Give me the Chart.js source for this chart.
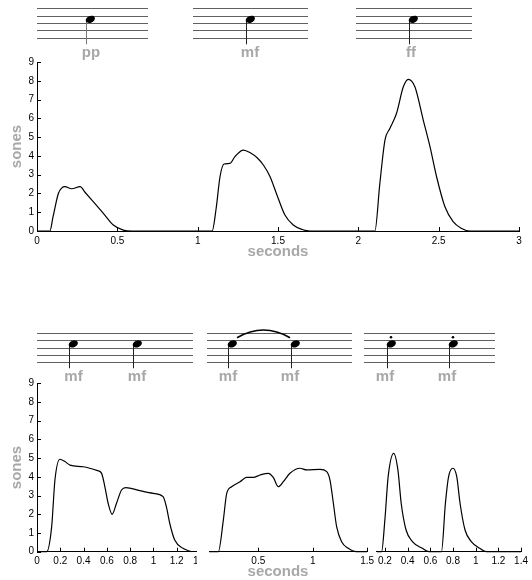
<!DOCTYPE html>
<html>
<head>
<meta charset="utf-8">
<script src="https://cdn.jsdelivr.net/npm/chart.js@4.4.1/dist/chart.umd.min.js"></script>
<style>
body { margin: 0; background: #fff; }
#wrap { position: relative; width: 532px; height: 580px; overflow: hidden; }
canvas { position: absolute; }
#c0 { left: 0; top: 0; }
#c1 { left: 0; top: 320px; }
#c2 { left: 197px; top: 320px; background: #fff; }
#c3 { left: 374px; top: 320px; background: #fff; }
#notes { left: 0; top: 0; pointer-events: none; }
</style>
</head>
<body>
<div id="wrap">
<canvas id="c0" width="532" height="270"></canvas>
<canvas id="c1" width="215" height="260"></canvas>
<canvas id="c2" width="185" height="260"></canvas>
<canvas id="c3" width="158" height="260"></canvas>
<canvas id="notes" width="532" height="580"></canvas>
</div>
<script>
/*----- data (seconds / sones) -----*/
// top: pp, mf, ff single notes
var topTime = [0, 0.08, 0.10, 0.133, 0.155, 0.174, 0.216, 0.268, 0.30, 0.35, 0.413, 0.475, 0.537, 0.59,
    1.09, 1.115, 1.139, 1.164, 1.20, 1.232, 1.284, 1.33, 1.37, 1.41, 1.45, 1.49, 1.543, 1.595, 1.65, 1.70,
    2.103, 2.134, 2.166, 2.197, 2.238, 2.28, 2.311, 2.352, 2.404, 2.446, 2.487, 2.539, 2.59, 2.64, 2.694, 3];
var topSones = [0, 0, 0.76, 2.0, 2.3, 2.36, 2.25, 2.36, 2.05, 1.56, 0.94, 0.32, 0.05, 0,
    0, 1.2, 2.89, 3.57, 3.6, 3.96, 4.31, 4.15, 3.9, 3.5, 2.9, 2.0, 0.85, 0.32, 0.08, 0,
    0, 2.54, 4.85, 5.47, 6.27, 7.68, 8.08, 7.68, 5.91, 4.49, 2.89, 1.29, 0.5, 0.15, 0, 0];
var topTicks = [0, 0.5, 1, 1.5, 2, 2.5, 3];

// bottom left: two separate mf notes
var sepTime = [0, 0.083, 0.126, 0.154, 0.197, 0.24, 0.283, 0.397, 0.52, 0.554, 0.583, 0.611, 0.645,
    0.683, 0.726, 0.763, 0.883, 0.997, 1.083, 1.111, 1.14, 1.183, 1.254, 1.326];
var sepSones = [0, 0, 1.34, 3.83, 4.94, 4.82, 4.63, 4.54, 4.33, 4.2, 3.47, 2.59, 2.0,
    2.59, 3.3, 3.42, 3.26, 3.12, 2.94, 2.41, 1.52, 0.62, 0.18, 0];
var sepTicks = [0, 0.2, 0.4, 0.6, 0.8, 1, 1.2, 1.4];

// bottom middle: slurred
var slurTime = [0.05, 0.133, 0.179, 0.21, 0.255, 0.332, 0.393, 0.454, 0.516, 0.592, 0.638, 0.684, 0.73,
    0.791, 0.883, 0.945, 1.067, 1.129, 1.159, 1.19, 1.22, 1.266, 1.327, 1.40, 1.5];
var slurSones = [0, 0, 1.69, 3.12, 3.47, 3.74, 3.97, 3.97, 4.1, 4.19, 3.97, 3.47, 3.74,
    4.19, 4.46, 4.37, 4.4, 4.28, 3.83, 2.59, 1.34, 0.53, 0.18, 0, 0];
var slurTicks = [0.5, 1, 1.5];

// bottom right: staccato
var stacTime = [0.13, 0.17, 0.199, 0.228, 0.277, 0.314, 0.343, 0.386, 0.444, 0.53, 0.588,
    0.698, 0.733, 0.761, 0.799, 0.833, 0.862, 0.906, 0.963, 1.036, 1.093, 1.4];
var stacSones = [0, 0, 1.69, 4.01, 5.26, 4.37, 2.59, 1.16, 0.53, 0.18, 0,
    0, 2.59, 4.01, 4.46, 4.01, 2.59, 1.16, 0.53, 0.18, 0, 0];
var stacTicks = [0.2, 0.4, 0.6, 0.8, 1, 1.2, 1.4];

var sonesTicks = [0, 1, 2, 3, 4, 5, 6, 7, 8, 9];

/*----- chart setup -----*/
var FONT = "'Liberation Sans', Arial, Helvetica, sans-serif";
var GREY = '#a8a8a8';
Chart.defaults.font.family = FONT;

function fmt(v) {
    return +(+v).toFixed(2) + '';
}

// matlab style ticks, pointing into the plot
var inwardTicks = {
    id: 'inwardTicks',
    afterDraw: function(chart) {
        var ctx = chart.ctx;
        var xs = chart.scales.x,
            ys = chart.scales.y;
        ctx.save();
        ctx.strokeStyle = '#000';
        ctx.lineWidth = 1;
        ctx.beginPath();
        xs.ticks.forEach(function(t) {
            var px = Math.round(xs.getPixelForValue(t.value)) + 0.5;
            ctx.moveTo(px, xs.top);
            ctx.lineTo(px, xs.top - 4);
        });
        if (ys.options.display) {
            ys.ticks.forEach(function(t) {
                var py = Math.round(ys.getPixelForValue(t.value)) + 0.5;
                ctx.moveTo(ys.right, py);
                ctx.lineTo(ys.right + 4, py);
            });
        }
        ctx.stroke();
        ctx.restore();
    }
};

function makeChart(id, time, sones, o) {
    var pts = [];
    for (var i = 0; i < time.length; i++) {
        pts.push({ x: time[i], y: sones[i] });
    }
    var yScale = {
        min: 0,
        max: 9,
        display: o.showY,
        grid: { display: false, drawTicks: false },
        border: { display: true, color: '#000', width: 1 },
        afterBuildTicks: function(s) {
            s.ticks = sonesTicks.map(function(v) { return { value: v }; });
        },
        ticks: { padding: 3, color: '#000', font: { size: 10 }, callback: fmt },
        title: { display: o.showY, text: 'sones', color: GREY, padding: { top: 8, bottom: 0 }, font: { size: 15, weight: 'bold' } }
    };
    if (o.showY) {
        yScale.afterFit = function(s) { s.width = 37; };
    }
    return new Chart(document.getElementById(id), {
        type: 'line',
        data: {
            datasets: [{
                data: pts,
                borderColor: '#000',
                borderWidth: 1.2,
                pointRadius: 0,
                cubicInterpolationMode: 'monotone',
                fill: false,
                clip: 4
            }]
        },
        options: {
            responsive: false,
            animation: false,
            devicePixelRatio: 1,
            layout: { padding: o.pad },
            plugins: { legend: { display: false }, tooltip: { enabled: false } },
            scales: {
                x: {
                    type: 'linear',
                    min: o.xmin,
                    max: o.xmax,
                    grid: { display: false, drawTicks: false },
                    border: { display: true, color: '#000', width: 1 },
                    afterBuildTicks: function(s) {
                        s.ticks = o.ticks.map(function(v) { return { value: v }; });
                    },
                    afterFit: function(s) { s.height = o.xh; },
                    ticks: { padding: 4, maxRotation: 0, color: '#000', font: { size: 10 }, callback: fmt },
                    title: { display: !!o.xtitle, text: 'seconds', color: GREY, padding: { top: 0, bottom: 9 }, font: { size: 15, weight: 'bold' } }
                },
                y: yScale
            }
        },
        plugins: [inwardTicks]
    });
}

makeChart('c0', topTime, topSones, { xmin: 0, xmax: 3, ticks: topTicks, showY: true, xh: 39, xtitle: true,
    pad: { top: 62, right: 13, left: 0, bottom: 0 } });
makeChart('c1', sepTime, sepSones, { xmin: 0, xmax: 1.4, ticks: sepTicks, showY: true, xh: 28.3,
    pad: { top: 63.3, right: 15, left: 0, bottom: 0 } });
makeChart('c2', slurTime, slurSones, { xmin: 0.05, xmax: 1.5, ticks: slurTicks, showY: false, xh: 28.3,
    pad: { top: 63.3, right: 14.9, left: 12.3, bottom: 0 } });
makeChart('c3', stacTime, stacSones, { xmin: 0.127, xmax: 1.4, ticks: stacTicks, showY: false, xh: 28.3,
    pad: { top: 63.3, right: 8.2, left: 2.7, bottom: 0 } });

/*----- music notation above the plots -----*/
var staffs = [
    { x0: 37, x1: 148, y0: 8.3, gap: 7.35, stemEnd: 44.3, labY: 53, notes: [{ x: 86, lab: 'pp', lx: 91, col: '#777' }] },
    { x0: 193, x1: 308, y0: 8.3, gap: 7.35, stemEnd: 44.3, labY: 53, notes: [{ x: 246, lab: 'mf', lx: 250 }] },
    { x0: 356, x1: 472, y0: 8.3, gap: 7.35, stemEnd: 44.3, labY: 53, notes: [{ x: 409, lab: 'ff', lx: 411 }] },
    { x0: 37, x1: 193, y0: 333.3, gap: 7.1, stemEnd: 368.3, labY: 377, notes: [{ x: 69, lab: 'mf', lx: 73.5 }, { x: 133, lab: 'mf', lx: 137 }] },
    { x0: 207, x1: 352, y0: 333.3, gap: 7.1, stemEnd: 368.3, labY: 377, slur: true, notes: [{ x: 228, lab: 'mf', lx: 228 }, { x: 291, lab: 'mf', lx: 290 }] },
    { x0: 364, x1: 495, y0: 333.3, gap: 7.1, stemEnd: 368.3, labY: 377, dots: true, notes: [{ x: 387, lab: 'mf', lx: 385 }, { x: 449, lab: 'mf', lx: 447 }] }
];

function drawStaff(ctx, s) {
    ctx.strokeStyle = '#606060';
    ctx.lineWidth = 1;
    ctx.beginPath();
    for (var i = 0; i < 5; i++) {
        var y = Math.round(s.y0 + i * s.gap) + 0.5;
        ctx.moveTo(s.x0, y);
        ctx.lineTo(s.x1, y);
    }
    ctx.stroke();
    var headY = s.y0 + 1.5 * s.gap;
    s.notes.forEach(function(n) {
        ctx.strokeStyle = n.col || '#222';
        ctx.beginPath();
        ctx.moveTo(n.x + 0.5, headY);
        ctx.lineTo(n.x + 0.5, s.stemEnd);
        ctx.stroke();
        ctx.fillStyle = '#000';
        ctx.beginPath();
        ctx.ellipse(n.x + 4.3, headY, 4.8, 3.4, -0.4, 0, Math.PI * 2);
        ctx.fill();
        if (s.dots) {
            ctx.beginPath();
            ctx.arc(n.x + 4, s.y0 + 4, 1.3, 0, Math.PI * 2);
            ctx.fill();
        }
        ctx.fillStyle = GREY;
        ctx.font = 'bold 15px ' + FONT;
        ctx.textAlign = 'center';
        ctx.textBaseline = 'middle';
        ctx.fillText(n.lab, n.lx, s.labY);
    });
    if (s.slur) {
        var a = s.notes[0].x + 9,
            b = s.notes[1].x - 1;
        ctx.strokeStyle = '#000';
        ctx.lineWidth = 1.6;
        ctx.beginPath();
        ctx.moveTo(a, s.y0 + 4.5);
        ctx.quadraticCurveTo((a + b) / 2, s.y0 - 11, b, s.y0 + 4.5);
        ctx.stroke();
    }
}

var nctx = document.getElementById('notes').getContext('2d');
staffs.forEach(function(s) { drawStaff(nctx, s); });

// shared x label under the bottom row
nctx.fillStyle = GREY;
nctx.font = 'bold 15px ' + FONT;
nctx.textAlign = 'center';
nctx.textBaseline = 'middle';
nctx.fillText('seconds', 278, 572);
</script>
</body>
</html>
